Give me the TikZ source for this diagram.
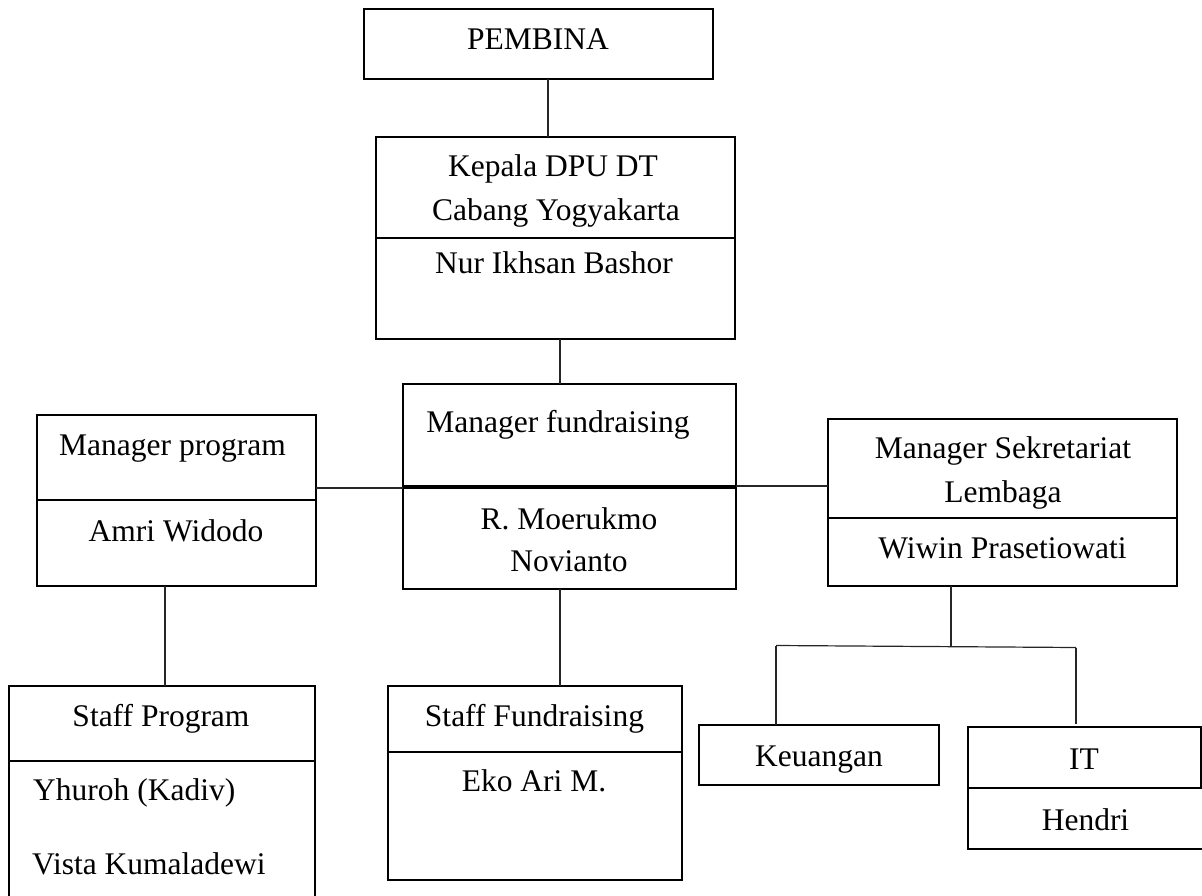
\documentclass[tikz,border=0pt]{standalone}
\usepackage{fontspec}
\setmainfont{Liberation Serif}
\begin{document}
\begin{tikzpicture}[x=1pt,y=-1pt,
  box/.style={draw=black,line width=2.9pt,inner sep=0pt,outer sep=0pt},
  conn/.style={draw=black!85,line width=1.2pt},
  lbl/.style={anchor=base,inner sep=0pt,font=\fontsize{31.5}{38}\selectfont},
  lbll/.style={anchor=base west,inner sep=0pt,font=\fontsize{31.5}{38}\selectfont}]
\useasboundingbox (0,0) rectangle (1202,896);
\clip (0,0) rectangle (1202,896);
% boxes
\node[box,minimum width=349pt,minimum height=70pt] (pemb) at (538.5,44) {};
\node[box,minimum width=359pt,minimum height=101pt] (kt) at (555.5,187.5) {};
\node[box,minimum width=359pt,minimum height=101pt] (kb) at (555.5,288.5) {};
\node[box,minimum width=333pt,minimum height=103pt] (mft) at (569.5,435.5) {};
\node[box,minimum width=333pt,minimum height=102pt] (mfb) at (569.5,538) {};
\draw[line width=4.5pt] (mft.south west) -- (mft.south east);
\node[box,minimum width=279pt,minimum height=85pt] (mpt) at (176.5,457.5) {};
\node[box,minimum width=279pt,minimum height=86pt] (mpb) at (176.5,543) {};
\node[box,minimum width=349pt,minimum height=99pt] (mst) at (1002.5,468.5) {};
\node[box,minimum width=349pt,minimum height=68pt] (msb) at (1002.5,552) {};
\node[box,minimum width=306pt,minimum height=75pt] (spt) at (162,723.5) {};
\node[box,minimum width=306pt,minimum height=149pt] (spb) at (162,835.5) {};
\node[box,minimum width=294pt,minimum height=66pt] (sft) at (535,719) {};
\node[box,minimum width=294pt,minimum height=128pt] (sfb) at (535,816) {};
\node[box,minimum width=240pt,minimum height=60pt] (keu) at (819,755) {};
\node[box,minimum width=233pt,minimum height=61pt] (itt) at (1084.5,757.5) {};
\node[box,minimum width=242pt,minimum height=61pt] (itb) at (1089,818.5) {};
% connectors
\draw[conn] ([xshift=9.5pt]pemb.south) -- ([xshift=9.5pt]pemb.south |- kt.north);
\draw[conn] ([xshift=4.5pt]kb.south) -- ([xshift=4.5pt]kb.south |- mft.north);
\draw[conn] ([yshift=12pt]mpt.south east) -- ([yshift=12pt]mpt.south east -| mft.west);
\draw[conn] ([yshift=1pt]mfb.north east) -- ([yshift=1pt]mfb.north east -| mst.west);
\draw[conn] ([xshift=-9.5pt]mfb.south) -- ([xshift=-9.5pt]mfb.south |- sft.north);
\draw[conn] ([xshift=-11.5pt]mpb.south) -- ([xshift=-11.5pt]mpb.south |- spt.north);
\coordinate (jm) at (951,646);
\coordinate (jl) at (776,645.5);
\coordinate (jr) at (1076,647.5);
\draw[conn] (msb.south -| jm) -- (jm);
\draw[conn] (jl) -- (jr);
\draw[conn] (jl) -- (jl |- keu.north);
\draw[conn] (jr) -- ([yshift=3pt]jr |- itt.north);
% texts
\node[lbl] (t1) at (538,50) {PEMBINA};
\node[lbl] (t2) at (553,177) {Kepala DPU DT};
\node[lbl] (t3) at (556,221) {Cabang Yogyakarta};
\node[lbl] (t4) at (554,273) {Nur Ikhsan Bashor};
\node[lbl] (t5) at (558,432) {Manager fundraising};
\node[lbl] (t6) at (569,529) {R. Moerukmo};
\node[lbl] (t7) at (569,571) {Novianto};
\node[lbl] (t8) at (172.5,455) {Manager program};
\node[lbl] (t9) at (176,541) {Amri Widodo};
\node[lbl] (t10) at (1003,458) {Manager Sekretariat};
\node[lbl] (t11) at (1003,502) {Lembaga};
\node[lbl] (t12) at (1002.5,558) {Wiwin Prasetiowati};
\node[lbl] (t13) at (161,726) {Staff Program};
\node[lbll] (t14) at (33,800) {Yhuroh (Kadiv)};
\node[lbll] (t15) at (32,874) {Vista Kumaladewi};
\node[lbl] (t16) at (534.5,726) {Staff Fundraising};
\node[lbl] (t17) at (534,791) {Eko Ari M.};
\node[lbl] (t18) at (819,766) {Keuangan};
\node[lbl] (t19) at (1084,769) {IT};
\node[lbl] (t20) at (1085.5,830) {Hendri};
\end{tikzpicture}
\end{document}
